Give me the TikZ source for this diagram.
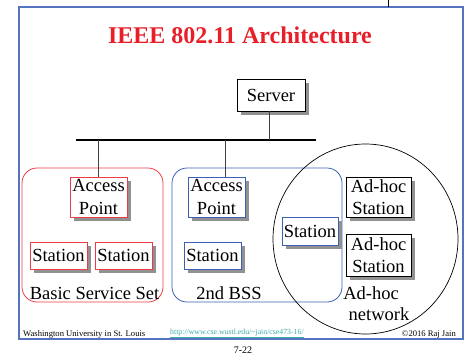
\documentclass[tikz,border=0pt]{standalone}
\usepackage{fontspec}
\setmainfont{Liberation Serif}
\usetikzlibrary{shadows}
\definecolor{framebl}{RGB}{85,115,190}
\definecolor{titlered}{RGB}{232,30,40}
\definecolor{bssred}{RGB}{235,60,70}
\definecolor{bssblue}{RGB}{60,95,180}
\definecolor{linkteal}{RGB}{60,170,170}
\definecolor{shadowgray}{RGB}{145,145,145}
\tikzset{
  box/.style={draw, fill=white, inner sep=0pt, align=center, font=\fontsize{18.5}{22.5}\selectfont,
    line width=0.8pt,
    drop shadow={shadow xshift=4pt, shadow yshift=-4pt, fill=shadowgray, opacity=1}},
  lbl/.style={inner sep=0pt, font=\fontsize{18.5}{20}\selectfont},
  foot/.style={inner sep=0pt, font=\fontsize{8.6}{9}\selectfont},
  drop/.style={line width=0.8pt, draw=black!75}
}
\begin{document}
\begin{tikzpicture}[x=1pt, y=-1pt]
\useasboundingbox (0,0) rectangle (465,356);
% frame
\draw[framebl, line width=1.2pt] (19,7) rectangle (463,339);
\coordinate (tl1) at (388,0);
\coordinate (tl2) at (388,7);
\draw[line width=0.6pt] (tl1) -- (tl2);
% title
\node[inner sep=0pt, text=titlered, font=\fontsize{24}{28}\selectfont\bfseries] (title) at (240,35) {IEEE 802.11 Architecture};
% groups
\draw[bssred, line width=0.8pt, rounded corners=15pt] (22,168) rectangle (163,302);
\draw[bssblue, line width=0.8pt, rounded corners=15pt] (172,168) rectangle (342,302);
\draw[black, line width=0.7pt] (365.5,239) ellipse [x radius=92.5, y radius=95];
% bus
\coordinate (busL) at (76,140);
\coordinate (busR) at (316,140);
\draw[line width=2.4pt] (busL) -- (busR);
% nodes
\node[box, minimum width=68pt, minimum height=32pt] (server) at (271,95) {Server};
\node[box, draw=bssred, minimum width=57pt, minimum height=40pt] (ap1) at (98.5,197) {Access\\Point};
\node[box, draw=bssred, minimum width=57pt, minimum height=27pt] (st1) at (58.5,255.5) {Station};
\node[box, draw=bssred, minimum width=57pt, minimum height=27pt] (st2) at (123.5,255.5) {Station};
\node[box, draw=bssblue, minimum width=57pt, minimum height=40pt] (ap2) at (216.5,197) {Access\\Point};
\node[box, draw=bssblue, minimum width=57pt, minimum height=27pt] (st3) at (212.5,255.5) {Station};
\node[box, draw=bssblue, minimum width=56pt, minimum height=28pt] (st4) at (310,231) {Station};
\node[box, minimum width=65pt, minimum height=40pt] (ah1) at (378.5,197) {Ad-hoc\\Station};
\node[box, minimum width=65pt, minimum height=42pt] (ah2) at (378.5,255) {Ad-hoc\\Station};
% drops
\draw[drop] (server.south -| 269,0) -- (busL -| 269,0);
\draw[drop] (busL -| ap1.north) -- (ap1.north);
\coordinate (ap2top) at ([xshift=8.5pt]ap2.north);
\draw[drop] (busL -| ap2top) -- (ap2top);
% labels
\node[lbl] (bsslbl) at (94.5,293) {Basic Service Set};
\node[lbl] (bss2lbl) at (229,293) {2nd BSS};
\node[lbl] (ahlbl1) at (371,293) {Ad-hoc};
\node[lbl] (ahlbl2) at (379,314) {network};
% footer
\node[foot, anchor=west] (wu) at (23,334.5) {Washington University in St. Louis};
\node[foot, anchor=west, text=linkteal, font=\fontsize{7.8}{9}\selectfont] (link) at (170,333.5) {\underline{http://www.cse.wustl.edu/\textasciitilde jain/cse473-16/}};
\node[foot, anchor=east] (copy) at (456,334.5) {©2016 Raj Jain};
\node[inner sep=0pt, font=\fontsize{10}{12}\selectfont] (pg) at (243,350) {7-22};
\end{tikzpicture}
\end{document}
